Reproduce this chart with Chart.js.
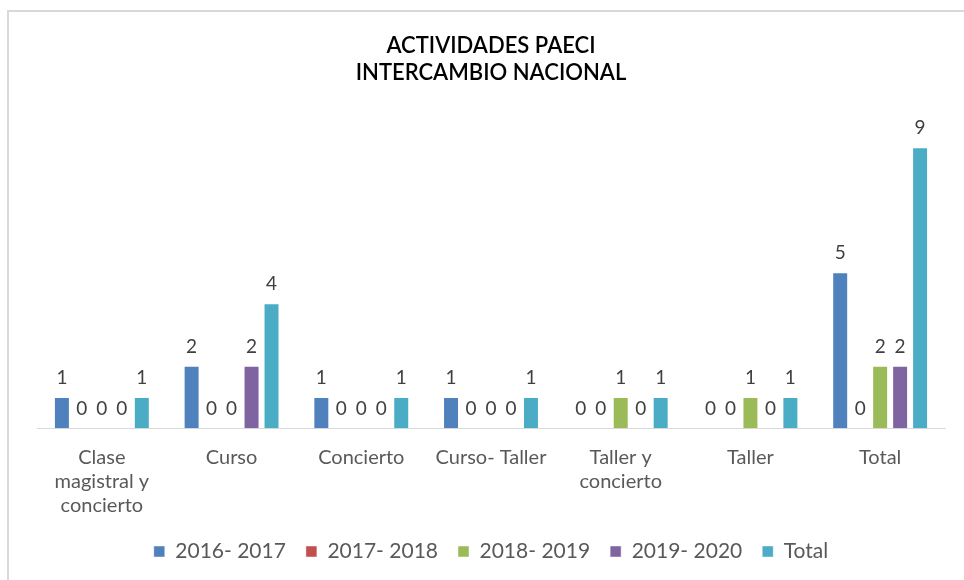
<!DOCTYPE html>
<html>
<head>
<meta charset="utf-8">
<script src="https://cdn.jsdelivr.net/npm/chart.js@4"></script>
<style>
  html, body { margin: 0; padding: 0; background: #fff; overflow: hidden; }
  #frame { position: absolute; left: 7px; top: 10px; width: 1000px; height: 600px;
           border-left: 2px solid #d9d9d9; border-top: 2px solid #d9d9d9; }
  #wrap { position: absolute; left: 7px; top: 0; width: 970px; height: 580px; }
</style>
</head>
<body>
<div id="frame"></div>
<div id="wrap"><canvas id="paeciGraph"></canvas></div>
<script>
let categories = [['Clase', 'magistral y', 'concierto'], 'Curso', 'Concierto', 'Curso- Taller', ['Taller y', 'concierto'], 'Taller', 'Total'];
let seriesNames = ['2016- 2017', '2017- 2018', '2018- 2019', '2019- 2020', 'Total'];
let data1 = [1, 2, 1, 1, 0, 0, 5];
let data2 = [0, 0, 0, 0, 0, 0, 0];
let data3 = [0, 0, 0, 0, 1, 1, 2];
let data4 = [0, 2, 0, 0, 0, 0, 2];
let data5 = [1, 4, 1, 1, 1, 1, 9];
let colors = ['#4f81bd', '#c0504d', '#9bbb59', '#8064a2', '#4bacc6'];

let fontName = "Lato, 'Open Sans', sans-serif";

// draws the value above every bar
let valueLabels = {
  id: 'valueLabels',
  afterDatasetsDraw(chart) {
    let ctx = chart.ctx;
    ctx.save();
    ctx.font = '19px ' + fontName;
    ctx.fillStyle = '#404040';
    ctx.textAlign = 'center';
    ctx.textBaseline = 'middle';
    chart.data.datasets.forEach((ds, i) => {
      chart.getDatasetMeta(i).data.forEach((bar, j) => {
        ctx.fillText(ds.data[j], bar.x, bar.y - 19);
      });
    });
    ctx.restore();
  }
};

let allData = [data1, data2, data3, data4, data5];
let myGraph = document.getElementById('paeciGraph').getContext('2d');

let graph = new Chart(myGraph, {
  type: 'bar',
  data: {
    labels: categories,
    datasets: allData.map((d, i) => ({
      label: seriesNames[i],
      data: d,
      backgroundColor: colors[i],
      borderColor: 'rgba(255,255,255,0.45)',
      borderWidth: 1,
      categoryPercentage: 0.77,
      barPercentage: 0.8
    }))
  },
  options: {
    responsive: true,
    maintainAspectRatio: false,
    animation: false,
    layout: { padding: { top: 18, left: 30, right: 32, bottom: 8 } },
    scales: {
      x: {
        grid: { display: false, drawTicks: false },
        border: { color: '#d9d9d9', width: 1 },
        ticks: { color: '#595959', font: { family: fontName, size: 20, lineHeight: 1.18 }, padding: 18, maxRotation: 0, autoSkip: false },
        afterFit(scale) { scale.height -= 14; }
      },
      y: {
        display: false,
        min: 0,
        max: 10
      }
    },
    plugins: {
      title: {
        display: true,
        text: ['ACTIVIDADES PAECI', 'INTERCAMBIO NACIONAL'],
        color: '#000',
        font: { family: fontName, size: 22, weight: '600', lineHeight: 1.23 },
        padding: { top: 14, bottom: 30 }
      },
      legend: {
        position: 'bottom',
        labels: {
          color: '#595959',
          font: { family: fontName, size: 21 },
          boxWidth: 11,
          boxHeight: 11,
          padding: 20
        }
      },
      tooltip: { enabled: false }
    }
  },
  plugins: [valueLabels]
});
</script>
</body>
</html>
